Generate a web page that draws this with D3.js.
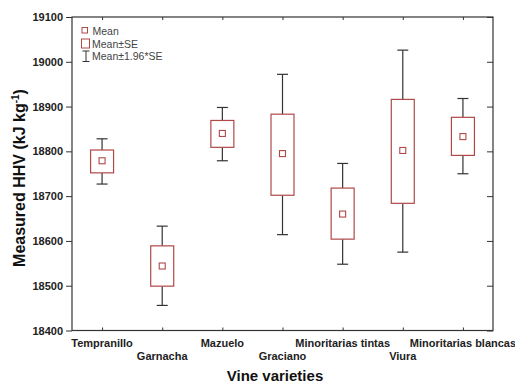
<!DOCTYPE html>
<html><head><meta charset="utf-8">
<script src="https://cdn.jsdelivr.net/npm/d3@7"></script>
<style>body{margin:0;background:#fff}svg{display:block}text{font-family:"Liberation Sans",Arial,sans-serif}</style>
</head><body><svg id="c" width="515" height="383"></svg>
<script>
const categories = ["Tempranillo","Garnacha","Mazuelo","Graciano","Minoritarias tintas","Viura","Minoritarias blancas"];
const means    = [18779, 18544, 18840, 18795, 18660, 18802, 18833];
const seLow    = [18752, 18499, 18809, 18702, 18604, 18684, 18791];
const seHigh   = [18803, 18589, 18869, 18883, 18718, 18916, 18876];
const ciLow    = [18727, 18456, 18779, 18614, 18548, 18575, 18750];
const ciHigh   = [18828, 18633, 18898, 18972, 18773, 19026, 18918];
const yTicks   = [18400, 18500, 18600, 18700, 18800, 18900, 19000, 19100];
const legendLabels = ["Mean", "Mean±SE", "Mean±1.96*SE"];

const svg = d3.select("#c");
const L = 72, R = 493, T = 17, B = 330.5;
const boxColor = "#b04848", lineColor = "#333";

const x = d3.scalePoint().domain(categories).range([L, R]).padding(0.5);
const y = d3.scaleLinear().domain([18400, 19100]).range([B, T]);

// frame
svg.append("rect").attr("x", L).attr("y", T).attr("width", R - L).attr("height", B - T)
  .attr("fill", "none").attr("stroke", "#333").attr("stroke-width", 1.2);

// left axis
const gl = svg.append("g").attr("transform", `translate(${L},0)`)
  .call(d3.axisLeft(y).tickValues(yTicks).tickSize(6).tickPadding(3).tickFormat(d3.format("d")));
gl.select(".domain").remove();
gl.selectAll("line").attr("stroke", "#333");
gl.selectAll("text").attr("font-size", 11).attr("font-weight", "bold").attr("fill", "#222");

// right axis (inner ticks)
const gr = svg.append("g").attr("transform", `translate(${R},0)`)
  .call(d3.axisRight(y).tickValues(yTicks).tickSize(-6).tickFormat(""));
gr.select(".domain").remove();
gr.selectAll("line").attr("stroke", "#333");

// top axis inner ticks
const gt = svg.append("g").attr("transform", `translate(0,${T})`)
  .call(d3.axisTop(x).tickSize(-3).tickFormat(""));
gt.select(".domain").remove();
gt.selectAll("line").attr("stroke", "#333");

// bottom axis
const gb = svg.append("g").attr("transform", `translate(0,${B})`)
  .call(d3.axisBottom(x).tickSize(-3).tickFormat(""));
gb.select(".domain").remove();
gb.selectAll("line").attr("stroke", "#333");

svg.append("g").selectAll("text").data(categories).join("text")
  .attr("x", d => x(d))
  .attr("y", (d, i) => i % 2 === 0 ? 347 : 359.5)
  .attr("text-anchor", "middle").attr("font-size", 11).attr("font-weight", "bold").attr("fill", "#222")
  .text(d => d);

// boxes
const bw = 23, cap = 11, ms = 6;
const g = svg.append("g");
categories.forEach((c, i) => {
  const cx = x(c);
  g.append("line").attr("x1", cx).attr("x2", cx).attr("y1", y(ciHigh[i])).attr("y2", y(seHigh[i]))
    .attr("stroke", lineColor).attr("stroke-width", 1.2);
  g.append("line").attr("x1", cx).attr("x2", cx).attr("y1", y(seLow[i])).attr("y2", y(ciLow[i]))
    .attr("stroke", lineColor).attr("stroke-width", 1.2);
  [ciHigh[i], ciLow[i]].forEach(v => g.append("line").attr("x1", cx - cap / 2).attr("x2", cx + cap / 2)
    .attr("y1", y(v)).attr("y2", y(v)).attr("stroke", lineColor).attr("stroke-width", 1.2));
  g.append("rect").attr("x", cx - bw / 2).attr("y", y(seHigh[i])).attr("width", bw)
    .attr("height", y(seLow[i]) - y(seHigh[i])).attr("fill", "#fff").attr("stroke", boxColor).attr("stroke-width", 1.2);
  g.append("rect").attr("x", cx - ms / 2).attr("y", y(means[i]) - ms / 2).attr("width", ms).attr("height", ms)
    .attr("fill", "#fff").attr("stroke", boxColor).attr("stroke-width", 1.1);
});

// legend
const lg = svg.append("g");
lg.append("rect").attr("x", 82).attr("y", 27.5).attr("width", 5.5).attr("height", 5.5)
  .attr("fill", "none").attr("stroke", boxColor).attr("stroke-width", 1);
lg.append("rect").attr("x", 81.5).attr("y", 39).attr("width", 8).attr("height", 9)
  .attr("fill", "none").attr("stroke", boxColor).attr("stroke-width", 1);
lg.append("line").attr("x1", 86).attr("x2", 86).attr("y1", 51).attr("y2", 61.5).attr("stroke", lineColor);
lg.append("line").attr("x1", 82.5).attr("x2", 89.5).attr("y1", 51).attr("y2", 51).attr("stroke", lineColor);
lg.append("line").attr("x1", 82.5).attr("x2", 89.5).attr("y1", 61.5).attr("y2", 61.5).attr("stroke", lineColor);
lg.selectAll("text").data(legendLabels).join("text")
  .attr("x", (d, i) => i === 0 ? 92.5 : 92)
  .attr("y", (d, i) => [34.5, 47.5, 60][i])
  .attr("font-size", 10.5).attr("fill", "#444").text(d => d);

// axis titles
const yt = svg.append("text").attr("transform", "translate(25,178) rotate(-90)")
  .attr("text-anchor", "middle").attr("font-size", 16).attr("font-weight", "bold").attr("fill", "#111");
yt.append("tspan").text("Measured HHV (kJ kg");
yt.append("tspan").attr("font-size", 10).attr("dy", -6).text("-1");
yt.append("tspan").attr("dy", 6).text(")");

svg.append("text").attr("x", 275).attr("y", 381).attr("text-anchor", "middle")
  .attr("font-size", 15).attr("font-weight", "bold").attr("fill", "#111").text("Vine varieties");
</script></body></html>
